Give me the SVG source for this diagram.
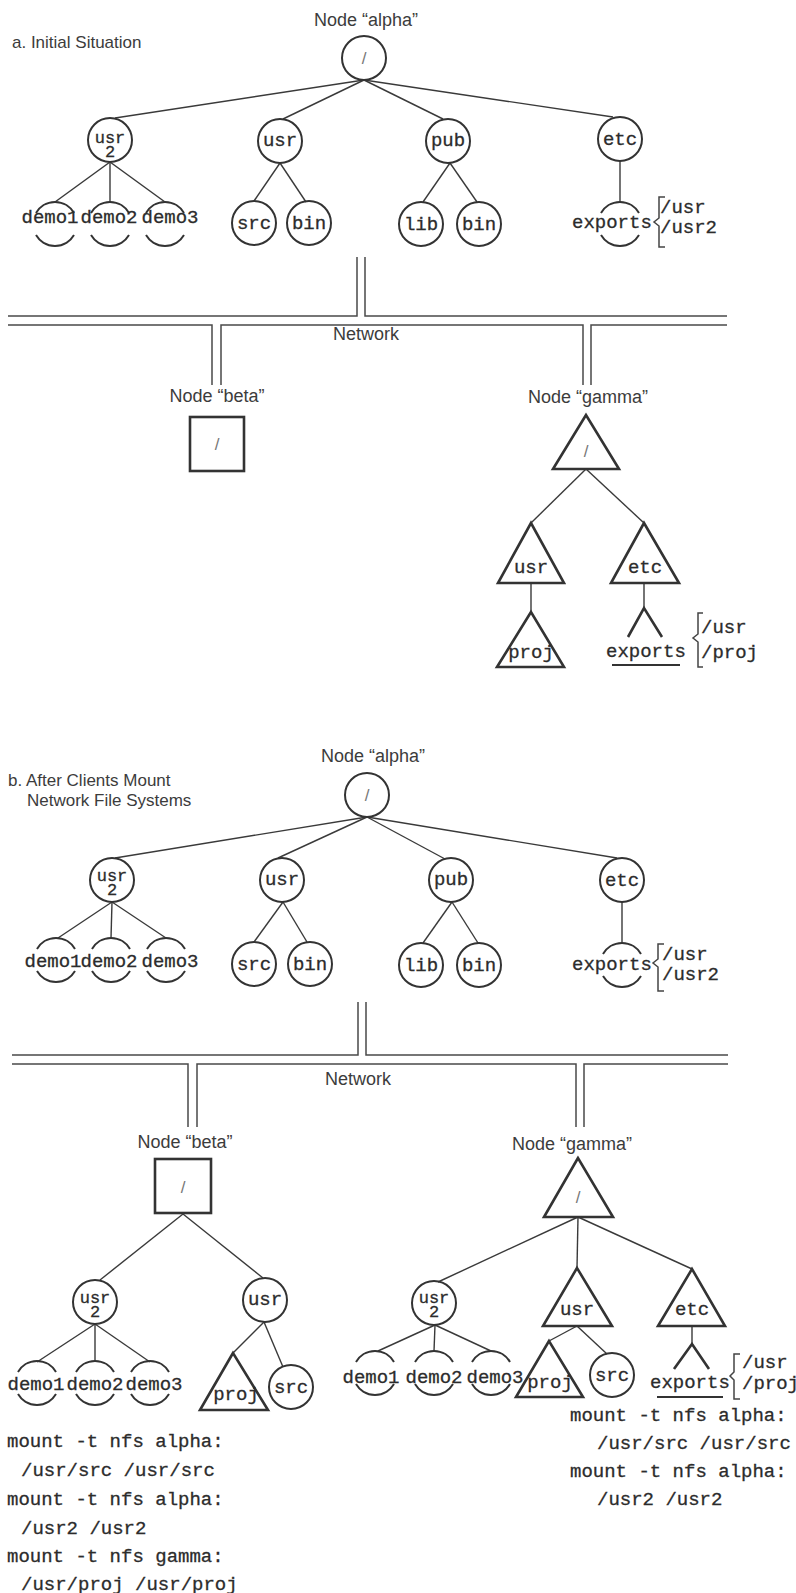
<svg xmlns="http://www.w3.org/2000/svg" xmlns:xlink="http://www.w3.org/1999/xlink" width="796" height="1593" viewBox="0 0 796 1593">
  <style>
    .edge { stroke: #3a3a3a; stroke-width: 1.4; fill: none; }
    .net { stroke: #4a4a4a; stroke-width: 1.5; fill: none; }
    .circ { fill: none; stroke: #333; stroke-width: 2; }
    .arc { fill: none; stroke: #333; stroke-width: 2; }
    .tri { fill: none; stroke: #333; stroke-width: 2.6; stroke-linejoin: miter; }
    .box { fill: none; stroke: #333; stroke-width: 2.6; }
    .brace { fill: none; stroke: #444; stroke-width: 1.5; }
    .mono { font-family: "Liberation Mono", "Courier New", monospace; font-size: 19px; fill: #2c2c2c; stroke: #2c2c2c; stroke-width: 0.3; }
    .stack { font-size: 17px; }
    .mc { text-anchor: middle; }
    .sans { font-family: "Liberation Sans", Arial, sans-serif; font-size: 18px; fill: #3c3c3c; }
    .title { font-family: "Liberation Sans", Arial, sans-serif; font-size: 17px; fill: #3c3c3c; }
    .slash { font-family: "Liberation Sans", Arial, sans-serif; font-size: 17px; fill: #777; text-anchor: middle; }
  </style>
  <defs>
    <!-- split circle: top and bottom arcs only, label runs through the middle -->
    <path id="split" class="arc" d="M-19,-11 A22,22 0 0 1 19,-11 M-19,11 A22,22 0 0 0 19,11"/>
  </defs>

  <!-- ============ a. Initial Situation ============ -->
  <text id="title-a" class="title" x="12" y="48">a. Initial Situation</text>

  <g id="connectors-a">
    <!-- alpha -->
    <line class="edge" x1="364" y1="80" x2="115" y2="118"/>
    <line class="edge" x1="364" y1="80" x2="283" y2="119"/>
    <line class="edge" x1="364" y1="80" x2="443" y2="119"/>
    <line class="edge" x1="364" y1="80" x2="613" y2="117"/>
    <line class="edge" x1="110" y1="162" x2="55" y2="202"/>
    <line class="edge" x1="110" y1="162" x2="110" y2="202"/>
    <line class="edge" x1="110" y1="162" x2="165" y2="202"/>
    <line class="edge" x1="280" y1="163" x2="254" y2="201"/>
    <line class="edge" x1="280" y1="163" x2="306" y2="202"/>
    <line class="edge" x1="450" y1="163" x2="423" y2="202"/>
    <line class="edge" x1="450" y1="163" x2="477" y2="202"/>
    <line class="edge" x1="620" y1="161" x2="620" y2="202"/>
    <!-- gamma -->
    <line class="edge" x1="586" y1="469" x2="531" y2="523"/>
    <line class="edge" x1="586" y1="469" x2="644" y2="523"/>
    <line class="edge" x1="531" y1="583" x2="531" y2="612"/>
    <line class="edge" x1="644" y1="583" x2="644" y2="608" stroke-width="2"/>
    <path class="tri" d="M628,637 L644,608 L662,637"/>
  </g>

  <g id="network-a">
    <path class="net" d="M8,316 H357 V257 M365,257 V316 H727"/>
    <path class="net" d="M8,325 H212 V385 M221,385 V325 H583 V385 M591,385 V325 H727"/>
    <text class="sans" x="366" y="340" text-anchor="middle">Network</text>
  </g>

  <g id="alpha-a">
    <text class="sans" x="366" y="26" text-anchor="middle">Node “alpha”</text>
    <g id="a-root"><circle class="circ" cx="364" cy="58" r="22"/><text class="slash" x="364" y="64">/</text></g>
    <g id="a-usr2"><circle class="circ" cx="110" cy="140" r="22"/><text class="mono mc stack" x="110" y="143">usr<tspan x="110" dy="14">2</tspan></text></g>
    <g id="a-usr"><circle class="circ" cx="280" cy="141" r="22"/><text class="mono mc" x="280" y="146">usr</text></g>
    <g id="a-pub"><circle class="circ" cx="448" cy="141" r="22"/><text class="mono mc" x="448" y="146">pub</text></g>
    <g id="a-etc"><circle class="circ" cx="620" cy="139" r="22"/><text class="mono mc" x="620" y="145">etc</text></g>
    <g id="a-demo1"><use xlink:href="#split" x="55" y="224"/><text class="mono mc" x="50" y="223">demo1</text></g>
    <g id="a-demo2"><use xlink:href="#split" x="110" y="224"/><text class="mono mc" x="109" y="223">demo2</text></g>
    <g id="a-demo3"><use xlink:href="#split" x="165" y="224"/><text class="mono mc" x="170" y="223">demo3</text></g>
    <g id="a-src"><circle class="circ" cx="254" cy="223" r="22"/><text class="mono mc" x="254" y="229">src</text></g>
    <g id="a-bin1"><circle class="circ" cx="309" cy="223" r="22"/><text class="mono mc" x="309" y="229">bin</text></g>
    <g id="a-lib"><circle class="circ" cx="421" cy="224" r="22"/><text class="mono mc" x="421" y="230">lib</text></g>
    <g id="a-bin2"><circle class="circ" cx="479" cy="224" r="22"/><text class="mono mc" x="479" y="230">bin</text></g>
    <g id="a-exports">
      <use xlink:href="#split" x="620" y="224"/>
      <text class="mono" x="572" y="228">exports</text>
      <path class="brace" d="M665,197 H659 V218 L654,222 L659,226 V247 H665"/>
      <text class="mono" x="660" y="213">/usr</text>
      <text class="mono" x="660" y="233">/usr2</text>
    </g>
  </g>

  <g id="beta-a">
    <text class="sans" x="217" y="402" text-anchor="middle">Node “beta”</text>
    <rect class="box" x="190" y="417" width="54" height="54"/>
    <text class="slash" x="217" y="450">/</text>
  </g>

  <g id="gamma-a">
    <text class="sans" x="588" y="403" text-anchor="middle">Node “gamma”</text>
    <g id="g-root"><path class="tri" d="M586,415 L553,469 H619 Z"/><text class="slash" x="586" y="457">/</text></g>
    <g id="g-usr"><path class="tri" d="M531,523 L498,583 H564 Z"/><text class="mono mc" x="531" y="573">usr</text></g>
    <g id="g-etc"><path class="tri" d="M644,523 L611,583 H679 Z"/><text class="mono mc" x="645" y="573">etc</text></g>
    <g id="g-proj"><path class="tri" d="M531,612 L497,667 H564 Z"/><text class="mono mc" x="531" y="658">proj</text></g>
    <g id="g-exports">
      <text class="mono" x="606" y="657">exports</text>
      <line x1="612" y1="665" x2="680" y2="665" stroke="#333" stroke-width="2"/>
      <path class="brace" d="M703,613 H698 V634 L693,638 L698,642 V667 H703"/>
      <text class="mono" x="701" y="633">/usr</text>
      <text class="mono" x="701" y="658">/proj</text>
    </g>
  </g>

  <!-- ============ b. After Clients Mount ============ -->
  <text id="title-b" class="title" x="8" y="786">b. After Clients Mount<tspan x="27" y="806">Network File Systems</tspan></text>

  <g id="connectors-b">
    <!-- alpha -->
    <line class="edge" x1="367" y1="817" x2="115" y2="858"/>
    <line class="edge" x1="367" y1="817" x2="278" y2="858"/>
    <line class="edge" x1="367" y1="817" x2="445" y2="859"/>
    <line class="edge" x1="367" y1="817" x2="617" y2="858"/>
    <line class="edge" x1="112" y1="902" x2="58" y2="938"/>
    <line class="edge" x1="112" y1="902" x2="111" y2="938"/>
    <line class="edge" x1="112" y1="902" x2="166" y2="938"/>
    <line class="edge" x1="283" y1="902" x2="254" y2="942"/>
    <line class="edge" x1="283" y1="902" x2="307" y2="942"/>
    <line class="edge" x1="452" y1="902" x2="423" y2="943"/>
    <line class="edge" x1="452" y1="902" x2="478" y2="943"/>
    <line class="edge" x1="622" y1="902" x2="622" y2="943"/>
    <!-- beta -->
    <line class="edge" x1="183" y1="1214" x2="100" y2="1280"/>
    <line class="edge" x1="183" y1="1214" x2="263" y2="1278"/>
    <line class="edge" x1="95" y1="1324" x2="37" y2="1362"/>
    <line class="edge" x1="95" y1="1324" x2="95" y2="1362"/>
    <line class="edge" x1="95" y1="1324" x2="150" y2="1362"/>
    <line class="edge" x1="264" y1="1322" x2="233" y2="1353"/>
    <line class="edge" x1="264" y1="1322" x2="283" y2="1367"/>
    <!-- gamma -->
    <line class="edge" x1="578" y1="1217" x2="438" y2="1282"/>
    <line class="edge" x1="578" y1="1217" x2="577" y2="1268"/>
    <line class="edge" x1="578" y1="1217" x2="692" y2="1269"/>
    <line class="edge" x1="435" y1="1325" x2="378" y2="1351"/>
    <line class="edge" x1="435" y1="1325" x2="434" y2="1351"/>
    <line class="edge" x1="435" y1="1325" x2="491" y2="1351"/>
    <line class="edge" x1="577" y1="1326" x2="549" y2="1341"/>
    <line class="edge" x1="577" y1="1326" x2="607" y2="1354"/>
    <line class="edge" x1="692" y1="1326" x2="692" y2="1344" stroke-width="2"/>
    <path class="tri" d="M674,1369 L692,1344 L709,1369"/>
  </g>

  <g id="network-b">
    <path class="net" d="M12,1055 H358 V1002 M366,1002 V1055 H728"/>
    <path class="net" d="M12,1064 H188 V1127 M197,1127 V1064 H576 V1127 M584,1127 V1064 H728"/>
    <text class="sans" x="358" y="1085" text-anchor="middle">Network</text>
  </g>

  <g id="alpha-b">
    <text class="sans" x="373" y="762" text-anchor="middle">Node “alpha”</text>
    <g id="b-root"><circle class="circ" cx="367" cy="795" r="22"/><text class="slash" x="367" y="801">/</text></g>
    <g id="b-usr2"><circle class="circ" cx="112" cy="880" r="22"/><text class="mono mc stack" x="112" y="881">usr<tspan x="112" dy="14">2</tspan></text></g>
    <g id="b-usr"><circle class="circ" cx="282" cy="880" r="22"/><text class="mono mc" x="282" y="885">usr</text></g>
    <g id="b-pub"><circle class="circ" cx="451" cy="880" r="22"/><text class="mono mc" x="451" y="885">pub</text></g>
    <g id="b-etc"><circle class="circ" cx="622" cy="880" r="22"/><text class="mono mc" x="622" y="886">etc</text></g>
    <g id="b-demo1"><use xlink:href="#split" x="56" y="960"/><text class="mono mc" x="53" y="967">demo1</text></g>
    <g id="b-demo2"><use xlink:href="#split" x="111" y="960"/><text class="mono mc" x="109" y="967">demo2</text></g>
    <g id="b-demo3"><use xlink:href="#split" x="166" y="960"/><text class="mono mc" x="170" y="967">demo3</text></g>
    <g id="b-src"><circle class="circ" cx="254" cy="964" r="22"/><text class="mono mc" x="254" y="970">src</text></g>
    <g id="b-bin1"><circle class="circ" cx="310" cy="964" r="22"/><text class="mono mc" x="310" y="970">bin</text></g>
    <g id="b-lib"><circle class="circ" cx="421" cy="965" r="22"/><text class="mono mc" x="421" y="971">lib</text></g>
    <g id="b-bin2"><circle class="circ" cx="479" cy="965" r="22"/><text class="mono mc" x="479" y="971">bin</text></g>
    <g id="b-exports">
      <use xlink:href="#split" x="622" y="965"/>
      <text class="mono" x="572" y="970">exports</text>
      <path class="brace" d="M664,944 H658 V959 L653,963 L658,967 V991 H664"/>
      <text class="mono" x="662" y="960">/usr</text>
      <text class="mono" x="662" y="980">/usr2</text>
    </g>
  </g>

  <g id="beta-b">
    <text class="sans" x="185" y="1148" text-anchor="middle">Node “beta”</text>
    <g id="bb-root"><rect class="box" x="155" y="1159" width="56" height="54"/><text class="slash" x="183" y="1193">/</text></g>
    <g id="bb-usr2"><circle class="circ" cx="95" cy="1302" r="22"/><text class="mono mc stack" x="95" y="1303">usr<tspan x="95" dy="14">2</tspan></text></g>
    <g id="bb-usr"><circle class="circ" cx="265" cy="1300" r="22"/><text class="mono mc" x="265" y="1305">usr</text></g>
    <g id="bb-demo1"><use xlink:href="#split" x="37" y="1383"/><text class="mono mc" x="36" y="1390">demo1</text></g>
    <g id="bb-demo2"><use xlink:href="#split" x="95" y="1383"/><text class="mono mc" x="95" y="1390">demo2</text></g>
    <g id="bb-demo3"><use xlink:href="#split" x="150" y="1383"/><text class="mono mc" x="154" y="1390">demo3</text></g>
    <g id="bb-proj"><path class="tri" d="M233,1353 L200,1410 H268 Z"/><text class="mono mc" x="236" y="1400">proj</text></g>
    <g id="bb-src"><circle class="circ" cx="291" cy="1387" r="22"/><text class="mono mc" x="291" y="1393">src</text></g>
  </g>

  <g id="gamma-b">
    <text class="sans" x="572" y="1150" text-anchor="middle">Node “gamma”</text>
    <g id="gb-root"><path class="tri" d="M578,1158 L544,1217 H613 Z"/><text class="slash" x="578" y="1203">/</text></g>
    <g id="gb-usr2"><circle class="circ" cx="434" cy="1303" r="22"/><text class="mono mc stack" x="434" y="1303">usr<tspan x="434" dy="14">2</tspan></text></g>
    <g id="gb-usr"><path class="tri" d="M577,1268 L543,1326 H612 Z"/><text class="mono mc" x="577" y="1315">usr</text></g>
    <g id="gb-etc"><path class="tri" d="M692,1269 L658,1326 H725 Z"/><text class="mono mc" x="692" y="1315">etc</text></g>
    <g id="gb-demo1"><use xlink:href="#split" x="375" y="1373"/><text class="mono mc" x="371" y="1383">demo1</text></g>
    <g id="gb-demo2"><use xlink:href="#split" x="434" y="1373"/><text class="mono mc" x="434" y="1383">demo2</text></g>
    <g id="gb-demo3"><use xlink:href="#split" x="491" y="1373"/><text class="mono mc" x="495" y="1383">demo3</text></g>
    <g id="gb-proj"><path class="tri" d="M549,1341 L516,1397 H583 Z"/><text class="mono mc" x="550" y="1388">proj</text></g>
    <g id="gb-src"><circle class="circ" cx="612" cy="1375" r="22"/><text class="mono mc" x="612" y="1381">src</text></g>
    <g id="gb-exports">
      <text class="mono" x="650" y="1388">exports</text>
      <line x1="657" y1="1397" x2="723" y2="1397" stroke="#333" stroke-width="2"/>
      <path class="brace" d="M740,1354 H734 V1372 L730,1376 L734,1380 V1399 H740"/>
      <text class="mono" x="742" y="1368">/usr</text>
      <text class="mono" x="742" y="1389">/proj</text>
    </g>
  </g>

  <g id="mounts-beta">
    <text class="mono" x="7" y="1447">mount -t nfs alpha:</text>
    <text class="mono" x="21" y="1476">/usr/src /usr/src</text>
    <text class="mono" x="7" y="1505">mount -t nfs alpha:</text>
    <text class="mono" x="21" y="1534">/usr2 /usr2</text>
    <text class="mono" x="7" y="1562">mount -t nfs gamma:</text>
    <text class="mono" x="21" y="1590">/usr/proj /usr/proj</text>
  </g>

  <g id="mounts-gamma">
    <text class="mono" x="570" y="1421">mount -t nfs alpha:</text>
    <text class="mono" x="597" y="1449">/usr/src /usr/src</text>
    <text class="mono" x="570" y="1477">mount -t nfs alpha:</text>
    <text class="mono" x="597" y="1505">/usr2 /usr2</text>
  </g>
</svg>
